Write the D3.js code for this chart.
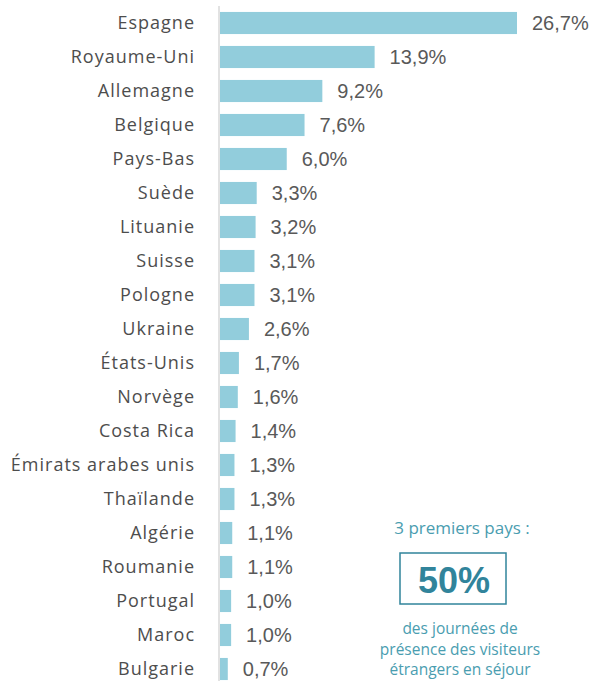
<!DOCTYPE html>
<html>
<head>
<meta charset="utf-8">
<script src="https://cdn.jsdelivr.net/npm/d3@7"></script>
<style>
  body { margin: 0; background: #fff; }
</style>
</head>
<body>
<div id="chart"></div>
<script>
// donnees
var pays = ["Espagne", "Royaume-Uni", "Allemagne", "Belgique", "Pays-Bas", "Suède", "Lituanie", "Suisse",
  "Pologne", "Ukraine", "États-Unis", "Norvège", "Costa Rica", "Émirats arabes unis", "Thaïlande",
  "Algérie", "Roumanie", "Portugal", "Maroc", "Bulgarie"];
var parts = [26.7, 13.9, 9.2, 7.6, 6.0, 3.3, 3.2, 3.1, 3.1, 2.6, 1.7, 1.6, 1.4, 1.3, 1.3, 1.1, 1.1, 1.0, 1.0, 0.7];
var encadre = ["3 premiers pays :", "50%", "des journées de", "présence des visiteurs", "étrangers en séjour"];

var W = 596, H = 681;
var svg = d3.select("#chart").append("svg")
  .attr("width", W)
  .attr("height", H);

var x0 = 220;
var x = d3.scaleLinear()
  .domain([0, 26.7])
  .range([x0, 517]);

var y = d3.scaleBand()
  .domain(pays)
  .range([6, 686])
  .paddingInner(0.35)
  .paddingOuter(0.175);

// barres
svg.selectAll(".bar")
  .data(pays)
  .enter()
  .append("rect")
    .attr("x", x(0))
    .attr("y", function(d) { return y(d); })
    .attr("width", function(d, i) { return x(parts[i]) - x(0); })
    .attr("height", y.bandwidth())
    .style("fill", "#92cddc");

// axe vertical
svg.append("line")
  .attr("x1", x0 - 1).attr("x2", x0 - 1)
  .attr("y1", 6).attr("y2", H)
  .style("stroke", "#d9d9d9")
  .style("stroke-width", 1.5);

// noms des pays
svg.selectAll(".lab")
  .data(pays)
  .enter()
  .append("text")
    .attr("x", 195)
    .attr("y", function(d) { return y(d) + y.bandwidth() / 2; })
    .attr("dy", "0.35em")
    .attr("text-anchor", "end")
    .style("font-family", "'Open Sans', sans-serif")
    .style("font-size", "18px")
    .style("letter-spacing", "1px")
    .style("fill", "#4d4d4d")
    .text(function(d) { return d; });

// valeurs
svg.selectAll(".val")
  .data(pays)
  .enter()
  .append("text")
    .attr("x", function(d, i) { return x(parts[i]) + 15; })
    .attr("y", function(d) { return y(d) + y.bandwidth() / 2; })
    .attr("dy", "0.36em")
    .style("font-family", "'Liberation Sans', Arial, sans-serif")
    .style("font-size", "20px")
    .style("fill", "#595959")
    .text(function(d, i) { return d3.format(".1f")(parts[i]).replace(".", ",") + "%"; });

// encadre
var cx = 462;
svg.append("text")
  .attr("x", cx).attr("y", 534)
  .attr("text-anchor", "middle")
  .style("font-family", "'Open Sans', sans-serif")
  .style("font-size", "17px")
  .style("fill", "#4a9db0")
  .text(encadre[0]);

svg.append("rect")
  .attr("x", 400).attr("y", 553)
  .attr("width", 106).attr("height", 51)
  .style("fill", "none")
  .style("stroke", "#31849b")
  .style("stroke-width", 1.5);

svg.append("text")
  .attr("x", cx - 8).attr("y", 593)
  .attr("text-anchor", "middle")
  .style("font-family", "'Liberation Sans', Arial, sans-serif")
  .style("font-weight", "bold")
  .style("font-size", "36px")
  .style("fill", "#31849b")
  .text(encadre[1]);

[encadre[2], encadre[3], encadre[4]].forEach(function(t, i) {
  svg.append("text")
    .attr("x", cx - 2).attr("y", 634 + i * 20.5)
    .attr("text-anchor", "middle")
    .style("font-family", "'Open Sans', sans-serif")
    .style("font-size", "15.5px")
    .style("fill", "#4a9db0")
    .text(t);
});
</script>
</body>
</html>
